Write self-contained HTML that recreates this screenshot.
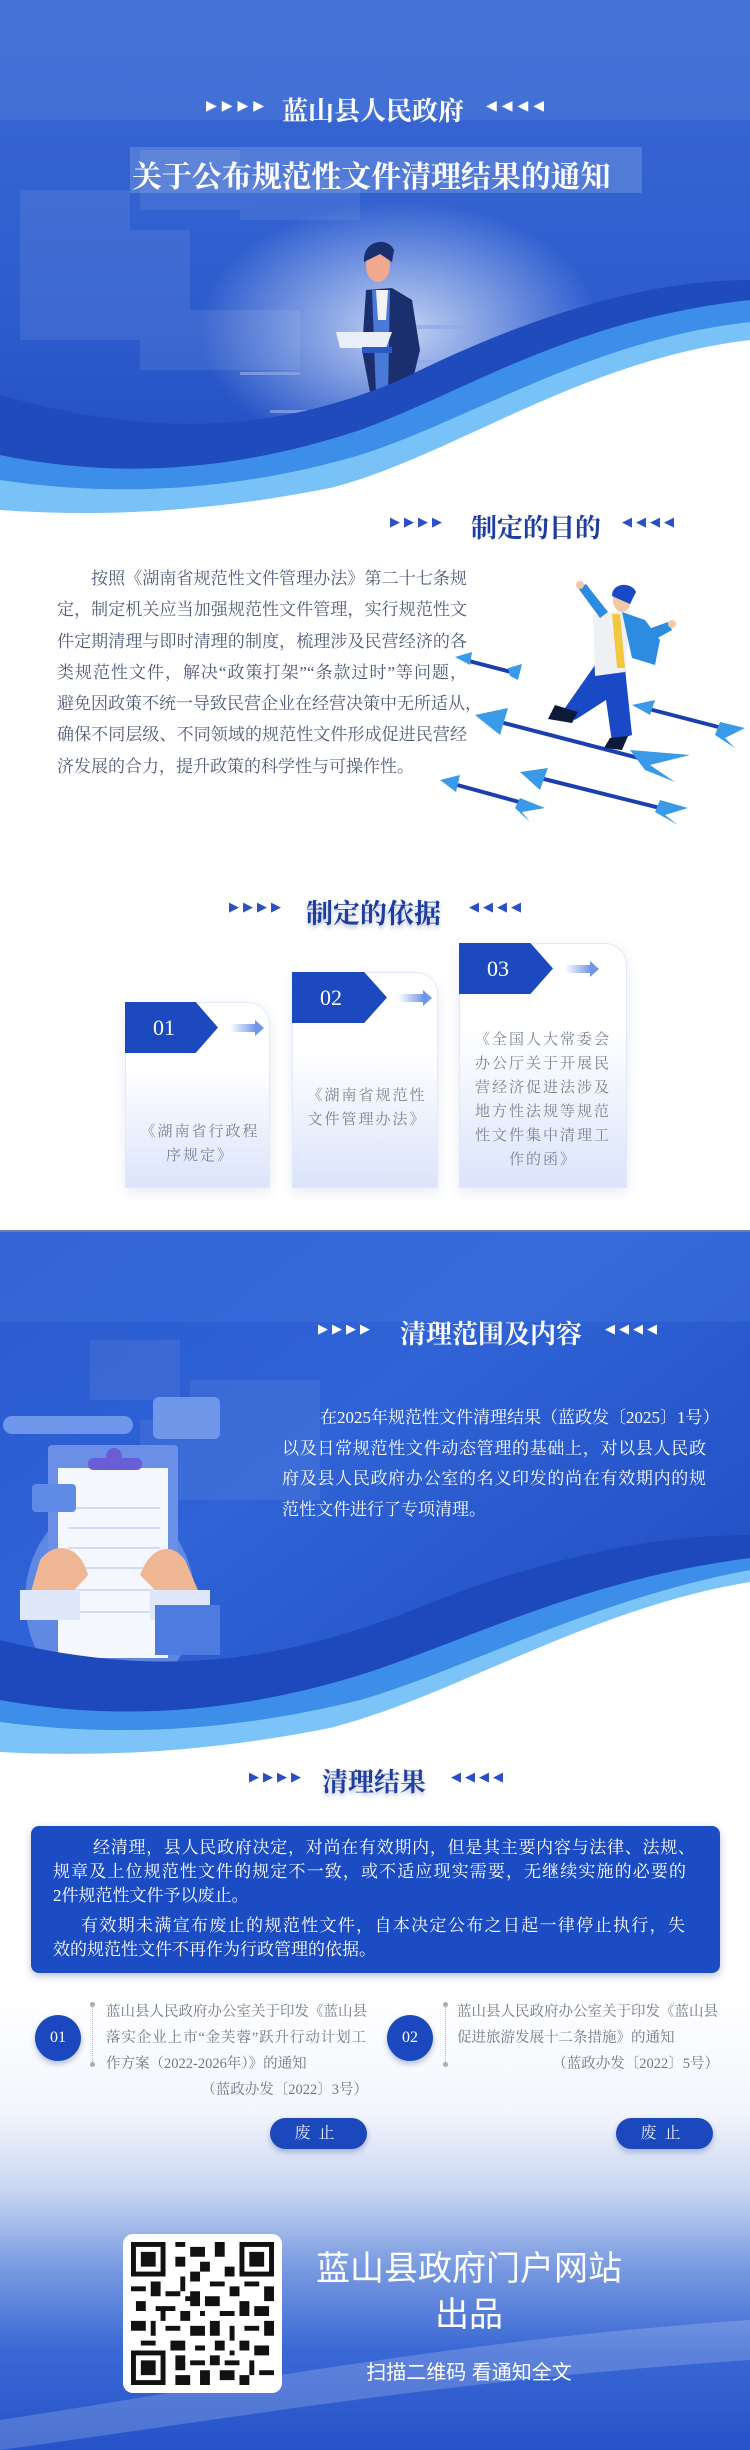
<!DOCTYPE html>
<html><head><meta charset="utf-8">
<style>
*{margin:0;padding:0;box-sizing:border-box}
body{width:750px;height:2450px;position:relative;overflow:hidden;background:#fff;font-family:"Liberation Serif","Noto Serif CJK SC",serif}
.a{position:absolute}
.tt{position:absolute;font-weight:bold;white-space:nowrap;font-family:"Liberation Serif","Noto Serif CJK SC",serif}
.ar{position:absolute;font-size:13px;letter-spacing:4px;color:#2a4fc6;white-space:nowrap;font-family:"DejaVu Sans",sans-serif}
.p{display:block;white-space:nowrap;text-align:justify;text-align-last:justify}
.card{position:absolute;background:linear-gradient(#fff 35%,#dbe4fa);border:1px solid #e3e9f7;border-top-right-radius:22px;box-shadow:0 4px 12px rgba(60,90,180,.12)}
.tag{position:absolute;background:#1d49bf;color:#fff;font-size:22px;font-family:"Liberation Serif",serif;clip-path:polygon(0 0,76% 0,100% 50%,76% 100%,0 100%);padding-left:28px;display:flex;align-items:center}
.cardt{position:absolute;text-align:center;color:#7a8294;font-size:15px;letter-spacing:2px;line-height:24px}
.btn{position:absolute;width:97px;height:31px;border-radius:16px;background:#1c48be;color:#e8eeff;font-size:16px;text-align:center;line-height:31px;letter-spacing:8px;box-shadow:0 3px 6px rgba(20,50,140,.3)}
.circ{position:absolute;width:46px;height:46px;border-radius:50%;background:#1b48be;color:#fff;font-size:16px;text-align:center;line-height:46px;box-shadow:0 3px 6px rgba(20,50,140,.3)}
.it{position:absolute;color:#707684;font-size:14.5px;line-height:26px;white-space:nowrap}
</style></head><body>

<!-- HERO -->
<svg class="a" style="left:0;top:0" width="750" height="540">
<defs>
<linearGradient id="hg" x1="0" y1="0" x2="0" y2="1"><stop offset="0" stop-color="#3a68d4"/><stop offset=".5" stop-color="#2f5fcf"/><stop offset="1" stop-color="#1f4cc0"/></linearGradient>
<radialGradient id="glow" cx=".5" cy=".5" r=".5"><stop offset="0" stop-color="#dfe8fb" stop-opacity=".85"/><stop offset="1" stop-color="#dfe8fb" stop-opacity="0"/></radialGradient>
</defs>
<rect width="750" height="540" fill="url(#hg)"/>
<rect x="0" y="0" width="750" height="120" fill="#5a86de" opacity=".35"/>
<g fill="#9cb4e6" opacity=".15">
<rect x="140" y="150" width="100" height="60"/><rect x="20" y="190" width="110" height="150"/><rect x="100" y="230" width="90" height="110"/><rect x="140" y="310" width="160" height="60"/><rect x="240" y="180" width="120" height="40"/>
</g>
<ellipse cx="400" cy="330" rx="200" ry="130" fill="url(#glow)"/>
<g fill="#8fa9e4" opacity=".7">
<rect x="240" y="372" width="60" height="3"/><rect x="270" y="410" width="60" height="3"/><rect x="410" y="360" width="60" height="3"/><rect x="440" y="430" width="40" height="3"/><rect x="240" y="440" width="90" height="4"/><rect x="405" y="325" width="60" height="4"/>
</g>
<rect x="130" y="147" width="512" height="46" fill="#c6d4f2" opacity=".22"/>
<rect x="298" y="470" width="90" height="45" fill="#1e3a8a"/>
<path d="M366,290 L392,288 L412,300 L420,350 L408,400 L390,405 L372,403 L362,350 Z" fill="#1b2f6e"/>
<path d="M372,290 L390,290 L388,395 L376,395 Z" fill="#4a7ad8"/>
<path d="M376,290 L388,290 L386,320 L378,320 Z" fill="#f2f2f2"/>
<rect x="352" y="400" width="22" height="92" fill="#1b2f6e"/><rect x="378" y="400" width="22" height="92" fill="#1b2f6e"/>
<path d="M336,332 L392,332 L386,348 L340,348 Z" fill="#e9eef8"/>
<rect x="362" y="347" width="30" height="6" fill="#2b58c2"/>
<ellipse cx="378" cy="266" rx="12" ry="16" fill="#f0a88e"/>
<path d="M364,262 C362,240 388,236 394,250 L392,262 L380,254 Z" fill="#1b2f6e"/>
<path d="M0,395 C160,440 280,430 400,380 C520,320 640,280 750,280 L750,540 L0,540 Z" fill="#1f4bbd"/>
<path d="M0,455 C120,480 240,470 360,430 C470,390 570,320 750,300 L750,540 L0,540 Z" fill="#3c8ee8"/>
<path d="M0,480 C120,498 240,490 360,455 C470,420 590,340 750,322 L750,540 L0,540 Z" fill="#79c2f7"/>
<path d="M0,510 C110,518 220,510 330,488 C450,458 580,360 750,340 L750,540 L0,540 Z" fill="#fff"/>
</svg>
<div class="ar" style="left:206px;top:98px;color:#fff;font-size:14px;letter-spacing:5px">▶▶▶▶</div>
<div class="tt" style="left:282px;top:91px;font-size:26px;color:#fff">蓝山县人民政府</div>
<div class="ar" style="left:486px;top:98px;color:#fff;font-size:14px;letter-spacing:5px">◀◀◀◀</div>
<div class="tt" style="left:132px;top:152px;font-size:30px;color:#fff;letter-spacing:-0.1px">关于公布规范性文件清理结果的通知</div>

<!-- Section 1 -->
<div class="ar" style="left:390px;top:515px">▶▶▶▶</div>
<div class="tt" style="left:471px;top:508px;font-size:26px;color:#1d3d9f">制定的目的</div>
<div class="ar" style="left:622px;top:515px">◀◀◀◀</div>
<div style="position:absolute;left:57px;top:563px;width:410px;color:#4f5a78;font-size:17px;line-height:31.3px">
<div class="p" style="padding-left:34px">按照《湖南省规范性文件管理办法》第二十七条规</div>
<div class="p">定，制定机关应当加强规范性文件管理，实行规范性文</div>
<div class="p">件定期清理与即时清理的制度，梳理涉及民营经济的各</div>
<div class="p">类规范性文件，解决“政策打架”“条款过时”等问题，</div>
<div class="p">避免因政策不统一导致民营企业在经营决策中无所适从，</div>
<div class="p">确保不同层级、不同领域的规范性文件形成促进民营经</div>
<div class="p" style="text-align-last:left">济发展的合力，提升政策的科学性与可操作性。</div>
</div>
<svg class="a" style="left:430px;top:570px" width="320" height="260" viewBox="430 570 320 260">
<g stroke="#1b3fae" stroke-width="4"><line x1="465" y1="660" x2="515" y2="673"/><line x1="500" y1="722" x2="650" y2="761"/><line x1="645" y1="708" x2="730" y2="730"/><line x1="450" y1="783" x2="530" y2="805"/><line x1="540" y1="778" x2="668" y2="810"/></g>
<g fill="#3a9ae8">
<polygon points="455,657 472,652 470,665"/><polygon points="508,668 522,664 518,680 510,676"/>
<polygon points="475,715 508,708 500,735"/><polygon points="630,750 690,755 650,765 675,782 645,770"/>
<polygon points="632,705 655,700 650,715"/><polygon points="720,722 745,728 725,738 735,748 715,735"/>
<polygon points="440,780 460,775 456,792"/><polygon points="520,798 545,808 522,812 530,822 515,808"/>
<polygon points="520,772 548,768 540,790"/><polygon points="660,800 688,808 665,815 678,825 655,812"/>
</g>
<path d="M595,665 L625,668 L632,735 L612,742 L606,700 L575,720 L565,708 Z" fill="#1a49c6"/>
<path d="M555,705 L578,712 L572,723 L548,719 Z" fill="#0d1a3a"/>
<path d="M610,738 L628,736 L622,750 L604,748 Z" fill="#0d1a3a"/>
<path d="M593,615 L630,610 L625,672 L595,676 Z" fill="#eef0f4"/>
<path d="M612,614 L620,614 L625,668 L617,668 Z" fill="#f2c840"/>
<path d="M622,612 L645,620 L660,640 L655,665 L632,658 Z" fill="#2d8be0"/>
<path d="M600,618 L578,588 L586,584 L608,612 Z" fill="#2d8be0"/>
<path d="M640,632 L668,622 L672,630 L645,645 Z" fill="#2d8be0"/>
<ellipse cx="622" cy="600" rx="9" ry="12" fill="#f2c7a8"/>
<path d="M612,596 C612,582 632,582 636,592 L630,604 Z" fill="#1a49c6"/>
<circle cx="580" cy="585" r="4" fill="#f2c7a8"/><circle cx="672" cy="624" r="4" fill="#f2c7a8"/>
</svg>

<!-- Section 2 -->
<div class="ar" style="left:229px;top:900px">▶▶▶▶</div>
<div class="tt" style="left:306px;top:892px;font-size:27px;color:#1d3d9f;text-shadow:0 3px 4px rgba(30,60,160,.3)">制定的依据</div>
<div class="ar" style="left:469px;top:900px">◀◀◀◀</div>

<div class="card" style="left:125px;top:1002px;width:145px;height:186px"></div>
<div class="tag" style="left:125px;top:1002px;width:93px;height:51px">01</div>
<div class="a" style="left:230px;top:1024px;width:26px;height:8px;background:linear-gradient(90deg,rgba(90,130,230,0),#6f96ea)"></div>
<div class="a" style="left:255px;top:1020px;width:0;height:0;border-left:9px solid #6f96ea;border-top:8px solid transparent;border-bottom:8px solid transparent"></div>
<div class="cardt" style="left:130px;top:1120px;width:140px">《湖南省行政程<br>序规定》</div>

<div class="card" style="left:292px;top:972px;width:146px;height:216px"></div>
<div class="tag" style="left:292px;top:972px;width:95px;height:51px">02</div>
<div class="a" style="left:398px;top:994px;width:26px;height:8px;background:linear-gradient(90deg,rgba(90,130,230,0),#6f96ea)"></div>
<div class="a" style="left:423px;top:990px;width:0;height:0;border-left:9px solid #6f96ea;border-top:8px solid transparent;border-bottom:8px solid transparent"></div>
<div class="cardt" style="left:294px;top:1084px;width:146px">《湖南省规范性<br>文件管理办法》</div>

<div class="card" style="left:459px;top:943px;width:168px;height:245px"></div>
<div class="tag" style="left:459px;top:943px;width:94px;height:51px">03</div>
<div class="a" style="left:565px;top:965px;width:26px;height:8px;background:linear-gradient(90deg,rgba(90,130,230,0),#6f96ea)"></div>
<div class="a" style="left:590px;top:961px;width:0;height:0;border-left:9px solid #6f96ea;border-top:8px solid transparent;border-bottom:8px solid transparent"></div>
<div class="cardt" style="left:462px;top:1028px;width:162px">《全国人大常委会<br>办公厅关于开展民<br>营经济促进法涉及<br>地方性法规等规范<br>性文件集中清理工<br>作的函》</div>

<!-- Section 3 dark -->
<div class="a" style="left:0;top:1230px;width:750px;height:2px;background:#6b7fb5"></div>
<svg class="a" style="left:0;top:1232px" width="750" height="560" viewBox="0 1232 750 560">
<defs>
<linearGradient id="dg" x1="0" y1="0" x2="1" y2="1"><stop offset="0" stop-color="#2a5ad0"/><stop offset=".4" stop-color="#2f63d6"/><stop offset="1" stop-color="#1c48bc"/></linearGradient>
</defs>
<rect x="0" y="1232" width="750" height="560" fill="url(#dg)"/>
<rect x="0" y="1232" width="750" height="90" fill="#4a7ee0" opacity=".3"/>
<g fill="#9db4e8" opacity=".12"><rect x="90" y="1340" width="90" height="60"/><rect x="190" y="1380" width="130" height="120"/><rect x="140" y="1420" width="60" height="80"/></g>
<ellipse cx="110" cy="1600" rx="85" ry="100" fill="#8fb0ee" opacity=".5"/>
<rect x="48" y="1445" width="130" height="175" rx="4" fill="#6b8fe6"/>
<rect x="58" y="1468" width="110" height="190" fill="#f4f7fd"/>
<g stroke="#c8d4ee" stroke-width="1.5"><line x1="68" y1="1508" x2="160" y2="1508"/><line x1="68" y1="1528" x2="160" y2="1528"/><line x1="68" y1="1548" x2="160" y2="1548"/><line x1="68" y1="1568" x2="160" y2="1568"/><line x1="68" y1="1590" x2="160" y2="1590"/><line x1="68" y1="1612" x2="160" y2="1612"/></g>
<rect x="88" y="1458" width="54" height="12" rx="5" fill="#6a5ed6"/><circle cx="114" cy="1456" r="8" fill="#6a5ed6"/>
<rect x="3" y="1416" width="130" height="18" rx="9" fill="#6e97ea"/>
<rect x="153" y="1397" width="67" height="42" rx="6" fill="#6e97ea"/>
<rect x="32" y="1484" width="44" height="28" rx="4" fill="#5f8ae6"/>
<path d="M40,1560 C55,1540 80,1545 88,1575 L70,1595 L30,1595 Z" fill="#f0b794"/>
<path d="M185,1560 C170,1540 150,1548 140,1575 L160,1595 L200,1595 Z" fill="#f0b794"/>
<rect x="20" y="1590" width="60" height="30" fill="#dfe8fb"/><rect x="150" y="1590" width="60" height="30" fill="#dfe8fb"/>
<rect x="155" y="1605" width="65" height="50" fill="#4d7be0"/>
<path d="M0,1640 C160,1680 280,1660 400,1615 C520,1565 640,1535 750,1535 L750,1792 L0,1792 Z" fill="#1d49bd"/>
<path d="M0,1700 C120,1722 240,1712 360,1675 C470,1640 580,1580 750,1558 L750,1792 L0,1792 Z" fill="#3c8ee8"/>
<path d="M0,1722 C120,1738 240,1730 360,1700 C470,1668 590,1600 750,1570 L750,1792 L0,1792 Z" fill="#7cc4f7"/>
<path d="M0,1752 C110,1758 220,1750 330,1728 C450,1698 590,1608 750,1582 L750,1792 L0,1792 Z" fill="#fff"/>
</svg>
<div class="ar" style="left:318px;top:1322px;color:#fff">▶▶▶▶</div>
<div class="tt" style="left:400px;top:1314px;font-size:26px;color:#fff">清理范围及内容</div>
<div class="ar" style="left:605px;top:1322px;color:#fff">◀◀◀◀</div>
<div style="position:absolute;left:282px;top:1403px;width:431px;color:#fff;font-size:17px;line-height:30.5px">
<div class="p" style="padding-left:38px">在2025年规范性文件清理结果（蓝政发〔2025〕1号）</div>
<div class="p" style="width:424px">以及日常规范性文件动态管理的基础上，对以县人民政</div>
<div class="p" style="width:424px">府及县人民政府办公室的名义印发的尚在有效期内的规</div>
<div class="p" style="text-align-last:left">范性文件进行了专项清理。</div>
</div>

<!-- Bottom background -->
<div class="a" style="left:0;top:1990px;width:750px;height:460px;background:linear-gradient(#fff 0px,#f3f6fc 120px,#c9d6f1 200px,#7f9fe2 270px,#3a68d4 360px,#2553c8 460px)"></div>
<svg class="a" style="left:0;top:2300px" width="750" height="150"><path d="M0,150 L0,120 C200,90 450,40 750,20 L750,60 C450,80 220,120 0,150Z" fill="#fff" opacity=".18"/></svg>

<!-- Section 4 -->
<div class="ar" style="left:249px;top:1770px">▶▶▶▶</div>
<div class="tt" style="left:322px;top:1762px;font-size:26px;color:#1d3d9f;text-shadow:0 3px 4px rgba(30,60,160,.3)">清理结果</div>
<div class="ar" style="left:451px;top:1770px">◀◀◀◀</div>
<div class="a" style="left:31px;top:1826px;width:689px;height:147px;background:#1c4cc4;border-radius:8px;box-shadow:0 3px 8px rgba(20,50,140,.3)"></div>
<div style="position:absolute;left:53px;top:1836px;width:642px;color:#fff;font-size:17px;line-height:24px">
<div class="p" style="padding-left:40px">经清理，县人民政府决定，对尚在有效期内，但是其主要内容与法律、法规、</div>
<div class="p" style="width:633px">规章及上位规范性文件的规定不一致，或不适应现实需要，无继续实施的必要的</div>
<div class="p" style="text-align-last:left">2件规范性文件予以废止。</div>
<div class="p" style="padding-left:28px;margin-top:6px;width:632px">有效期未满宣布废止的规范性文件，自本决定公布之日起一律停止执行，失</div>
<div class="p" style="text-align-last:left">效的规范性文件不再作为行政管理的依据。</div>
</div>

<div class="circ" style="left:35px;top:2015px">01</div>
<div class="a" style="left:92px;top:2004px;height:62px;border-left:1.5px dotted #b0b6c4"></div>
<div class="a" style="left:90px;top:2002px;width:5px;height:5px;border-radius:50%;background:#aab"></div>
<div class="a" style="left:90px;top:2062px;width:5px;height:5px;border-radius:50%;background:#aab"></div>
<div class="it" style="left:106px;top:1999px;width:262px">
<div class="p" style="width:260px">蓝山县人民政府办公室关于印发《蓝山县</div>
<div class="p" style="width:260px">落实企业上市“金芙蓉”跃升行动计划工</div>
<div>作方案（2022-2026年）》的通知</div>
<div style="text-align:right;width:262px">（蓝政办发〔2022〕3号）</div>
</div>
<div class="circ" style="left:387px;top:2015px">02</div>
<div class="a" style="left:445px;top:2004px;height:62px;border-left:1.5px dotted #b0b6c4"></div>
<div class="a" style="left:443px;top:2002px;width:5px;height:5px;border-radius:50%;background:#aab"></div>
<div class="a" style="left:443px;top:2062px;width:5px;height:5px;border-radius:50%;background:#aab"></div>
<div class="it" style="left:457px;top:1999px;width:262px">
<div class="p" style="width:260px">蓝山县人民政府办公室关于印发《蓝山县</div>
<div>促进旅游发展十二条措施》的通知</div>
<div style="text-align:right;width:262px">（蓝政办发〔2022〕5号）</div>
</div>
<div class="btn" style="left:270px;top:2118px">废止</div>
<div class="btn" style="left:616px;top:2118px">废止</div>

<!-- QR -->
<div class="a" style="left:123px;top:2234px;width:159px;height:159px;background:#fff;border-radius:10px"></div>
<svg class="a" style="left:131px;top:2242px" width="143" height="143" viewBox="0 0 29 29">
<rect width="29" height="29" fill="#fff"/>
<g fill="#111">
<path d="M0,0h7v7h-7zM1,1v5h5v-5zM2,2h3v3h-3z" fill-rule="evenodd"/>
<path d="M22,0h7v7h-7zM23,1v5h5v-5zM24,2h3v3h-3z" fill-rule="evenodd"/>
<path d="M0,22h7v7h-7zM1,23v5h5v-5zM2,24h3v3h-3z" fill-rule="evenodd"/>
<path d="M9,0h2v1h-2zM12,1h3v2h-3zM17,0h2v3h-2zM9,3h2v2h-2zM14,4h2v2h-2zM19,5h2v2h-2zM10,7h1v3h-1zM12,6h2v2h-2zM16,8h3v1h-3zM0,9h3v1h-3zM4,8h2v3h-2zM7,10h3v1h-3zM12,10h2v3h-2zM15,11h3v2h-3zM20,9h2v2h-2zM23,8h3v1h-3zM27,9h2v3h-2zM1,12h2v2h-2zM5,13h4v1h-4zM10,14h2v2h-2zM18,14h3v1h-3zM22,12h2v3h-2zM25,13h3v2h-3zM0,16h3v2h-3zM4,16h1v3h-1zM7,17h3v1h-3zM12,17h3v2h-3zM16,16h2v3h-2zM20,17h1v3h-1zM23,17h3v1h-3zM27,16h2v3h-2zM2,20h3v1h-3zM8,20h3v2h-3zM13,21h2v1h-2zM17,20h2v2h-2zM22,20h2v2h-2zM25,21h3v2h-3zM9,23h2v3h-2zM12,24h3v1h-3zM16,23h2v2h-2zM19,24h3v1h-3zM24,24h1v3h-1zM26,26h3v1h-3zM9,27h3v2h-3zM14,26h2v3h-2zM18,26h3v2h-3zM22,27h2v2h-2zM6,14h1v2h-1zM14,14h1v1h-1zM20,22h1v1h-1zM11,11h1v1h-1z"/>
</g></svg>
<div class="a" style="left:312px;top:2246px;width:314px;text-align:center;color:#fff;font-size:34px;line-height:46px;font-family:'Liberation Sans','Noto Sans CJK SC',sans-serif">蓝山县政府门户网站<br>出品</div>
<div class="a" style="left:312px;top:2356px;width:314px;text-align:center;color:#fff;font-size:20px;font-family:'Liberation Sans','Noto Sans CJK SC',sans-serif">扫描二维码 看通知全文</div>
</body></html>
